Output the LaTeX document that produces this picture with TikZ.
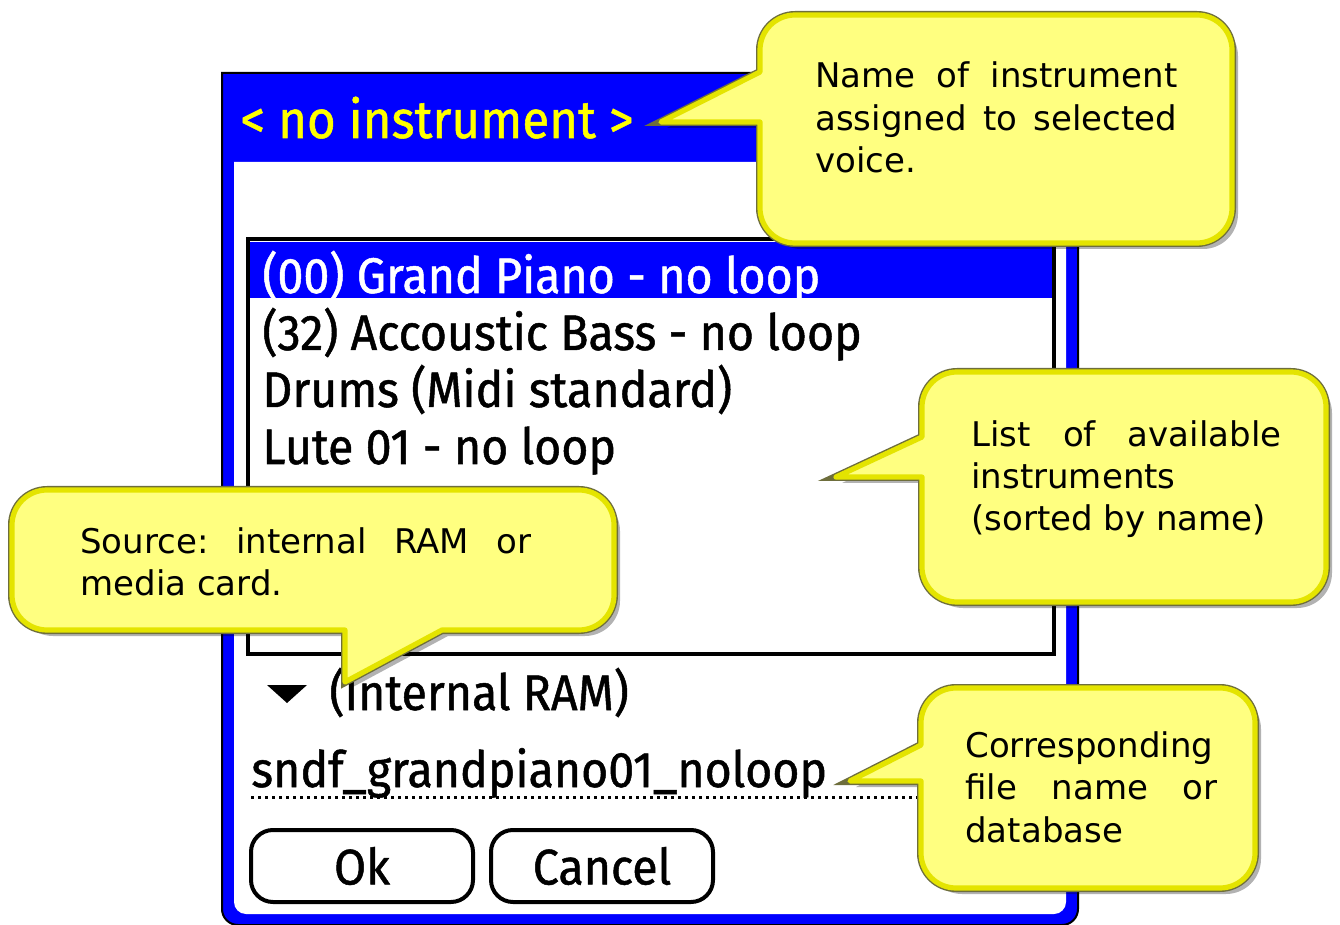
\documentclass[tikz,border=0pt]{standalone}
\usepackage{fontspec}
\newfontfamily\palmfont[FakeStretch=0.93, FakeBold=1]{Fira Sans}
\newfontfamily\notefont{DejaVu Sans}
\usetikzlibrary{shadows}

\definecolor{palmblue}{RGB}{0,0,255}
\definecolor{titleyellow}{RGB}{255,255,0}
\definecolor{notefill}{RGB}{255,255,128}
\definecolor{noteband}{RGB}{228,228,0}
\definecolor{noterim}{RGB}{110,110,60}

\begin{document}
\frenchspacing
\begin{tikzpicture}[x=0.5pt, y=-0.5pt,
note/.style={line join=round,
	drop shadow={shadow xshift=3pt, shadow yshift=-3pt, opacity=.3, fill=black},
	preaction={draw=noterim, line width=4pt},
	fill=notefill, draw=noteband, line width=2.6pt},
notetext/.style={anchor=base west, inner sep=0pt, align=justify,
	font=\notefont\fontsize{17}{21.25}\selectfont},
rowtext/.style={anchor=base west, inner sep=0pt,
	font=\palmfont\fontsize{25}{30}\selectfont},
palmbutton/.style={draw, line width=2pt, rounded corners=11pt,
	minimum width=111pt, minimum height=36pt, inner sep=0pt,
	font=\palmfont\fontsize{25}{30}\selectfont}]
\useasboundingbox (0,0) rectangle (1340,925);

% dialog
\path[fill=palmblue, draw=black, line width=1pt] (222,73) -- (1078,73) -- (1078,909)
	arc[start angle=0, end angle=90, radius=16] -- (238,925)
	arc[start angle=90, end angle=180, radius=16] -- cycle;
\path[fill=white] (234,162) -- (1066,162) -- (1066,902)
	arc[start angle=0, end angle=90, radius=12] -- (246,914)
	arc[start angle=90, end angle=180, radius=12] -- cycle;
\node[rowtext, text=titleyellow, font=\palmfont\fontsize{26.5}{30}\selectfont] (title) at (240,138) {< no instrument >};

% list of instruments
\draw[line width=2pt] (248,239) rectangle (1054,654);
\fill[palmblue] (250,242) rectangle (1052,298);
\node[rowtext, text=white] (row0) at (262,293) {(00) Grand Piano - no loop};
\node[rowtext] (row1) at (262,350) {(32) Accoustic Bass - no loop};
\node[rowtext] (row2) at (262,407) {Drums (Midi standard)};
\node[rowtext] (row3) at (262,464) {Lute 01 - no loop};

% source, file, buttons
\fill (267,685) -- (307,685) -- (287,703) -- cycle;
\node[rowtext] (source) at (329,710) {(Internal RAM)};
\node[rowtext] (file) at (251,787) {sndf\_grandpiano01\_noloop};
\draw[line width=1.5pt, dash pattern=on 1.5pt off 2pt] (251,797) -- (921,797);
\node[palmbutton] (ok) at (362,866) {Ok};
\node[palmbutton] (cancel) at (602,866) {Cancel};

% callouts
\path[note] (760,72) -- (661,122) -- (760,122) -- (760,208)
	arc[start angle=180, end angle=90, radius=35] -- (1197,243)
	arc[start angle=90, end angle=0, radius=35] -- (1232,50)
	arc[start angle=0, end angle=-90, radius=35] -- (795,15)
	arc[start angle=-90, end angle=-180, radius=35] -- cycle;
\node[notetext, text width=181pt] (nametip) at (815,88)
	{Name of instrument\linebreak assigned to selected\linebreak voice.};

\path[note] (922,437) -- (836,477) -- (922,477) -- (922,567)
	arc[start angle=180, end angle=90, radius=35] -- (1291,602)
	arc[start angle=90, end angle=0, radius=35] -- (1326,407)
	arc[start angle=0, end angle=-90, radius=35] -- (957,372)
	arc[start angle=-90, end angle=-180, radius=35] -- cycle;
\node[notetext, text width=155pt] (listtip) at (971,446)
	{List of available\linebreak instruments\\ (sorted by name)};

\path[note] (345,630) -- (345,682) -- (442,630) -- (579,630)
	arc[start angle=90, end angle=0, radius=35] -- (614,525)
	arc[start angle=0, end angle=-90, radius=35] -- (47,490)
	arc[start angle=-90, end angle=-180, radius=35] -- (12,595)
	arc[start angle=180, end angle=90, radius=35] -- cycle;
\node[notetext, text width=225.5pt] (sourcetip) at (80,553)
	{Source: internal RAM or\linebreak media card.};

\path[note] (921,745) -- (850,781) -- (921,781) -- (921,853)
	arc[start angle=180, end angle=90, radius=35] -- (1220,888)
	arc[start angle=90, end angle=0, radius=35] -- (1255,723)
	arc[start angle=0, end angle=-90, radius=35] -- (956,688)
	arc[start angle=-90, end angle=-180, radius=35] -- cycle;
\node[notetext, text width=126pt] (filetip) at (965,757)
	{Corresponding\\ file name or\linebreak database};
\end{tikzpicture}
\end{document}
